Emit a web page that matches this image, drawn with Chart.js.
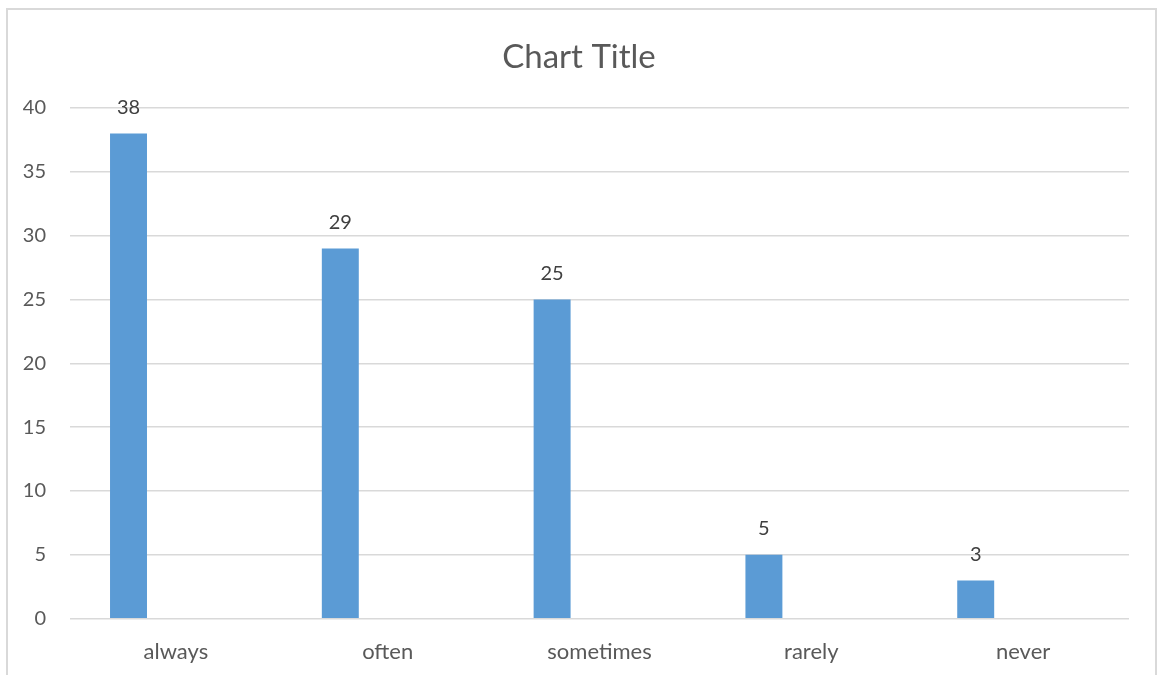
<!DOCTYPE html>
<html>
<head>
<meta charset="utf-8">
<script src="https://cdn.jsdelivr.net/npm/chart.js@4"></script>
<style>
  html, body { margin: 0; padding: 0; background: #ffffff; }
  #wrap { width: 1158px; height: 675px; position: relative; }
</style>
</head>
<body>
<div id="wrap"><canvas id="chart" width="1158" height="675"></canvas></div>
<script>
// Survey answer frequencies
const categories = ['always', 'often', 'sometimes', 'rarely', 'never'];
const counts = [38, 29, 25, 5, 3];
const emptySeries = [null, null, null, null, null];
const yTicks = [0, 5, 10, 15, 20, 25, 30, 35, 40];

const FONT = 'Lato, "Open Sans", "DejaVu Sans", sans-serif';

// Thin frame around the whole chart
const framePlugin = {
  id: 'frame',
  beforeDraw(chart) {
    const ctx = chart.ctx;
    ctx.save();
    ctx.fillStyle = '#ffffff';
    ctx.fillRect(0, 0, chart.width, chart.height);
    ctx.strokeStyle = '#d9d9d9';
    ctx.lineWidth = 2;
    ctx.strokeRect(7, 9, 1149, 700);
    ctx.restore();
  }
};

// Value printed above each bar
const valueLabels = {
  id: 'valueLabels',
  afterDatasetsDraw(chart) {
    const ctx = chart.ctx;
    const meta = chart.getDatasetMeta(0);
    const data = chart.data.datasets[0].data;
    ctx.save();
    ctx.font = '20px ' + FONT;
    ctx.fillStyle = '#404040';
    ctx.textAlign = 'center';
    ctx.textBaseline = 'middle';
    meta.data.forEach((bar, i) => {
      if (data[i] == null) return;
      ctx.fillText(String(data[i]), bar.x, bar.y - 26);
    });
    ctx.restore();
  }
};

new Chart(document.getElementById('chart'), {
  type: 'bar',
  data: {
    labels: categories,
    datasets: [
      { data: counts, backgroundColor: '#5b9bd5', borderWidth: 0 },
      { data: emptySeries, backgroundColor: '#ed7d31', borderWidth: 0 }
    ]
  },
  options: {
    responsive: false,
    animation: false,
    categoryPercentage: 0.895,
    barPercentage: 0.39,
    layout: { padding: 0 },
    plugins: {
      legend: { display: false },
      tooltip: { enabled: false },
      title: {
        display: true,
        text: 'Chart Title',
        color: '#595959',
        font: { family: FONT, size: 33, weight: 'normal', lineHeight: 1.2 },
        padding: { top: 37.5, bottom: 30.9 }
      }
    },
    scales: {
      x: {
        grid: { display: false, drawTicks: false },
        border: { display: false },
        ticks: {
          color: '#595959',
          font: { family: FONT, size: 22 },
          padding: 20,
          maxRotation: 0
        },
        afterFit(scale) { scale.height = 56.3; }
      },
      y: {
        min: 0,
        max: 40,
        afterBuildTicks(scale) { scale.ticks = yTicks.map(v => ({ value: v })); },
        grid: { color: '#d9d9d9', lineWidth: 1.5, drawTicks: false },
        border: { display: false },
        ticks: {
          color: '#595959',
          font: { family: FONT, size: 20 },
          padding: 24
        },
        afterFit(scale) { scale.width = 70; }
      },
      // empty margin on the right side of the plot
      yRight: {
        position: 'right',
        min: 0,
        max: 40,
        grid: { display: false, drawTicks: false },
        border: { display: false },
        ticks: { display: false },
        afterFit(scale) { scale.width = 29; }
      }
    }
  },
  plugins: [framePlugin, valueLabels]
});
</script>
</body>
</html>
